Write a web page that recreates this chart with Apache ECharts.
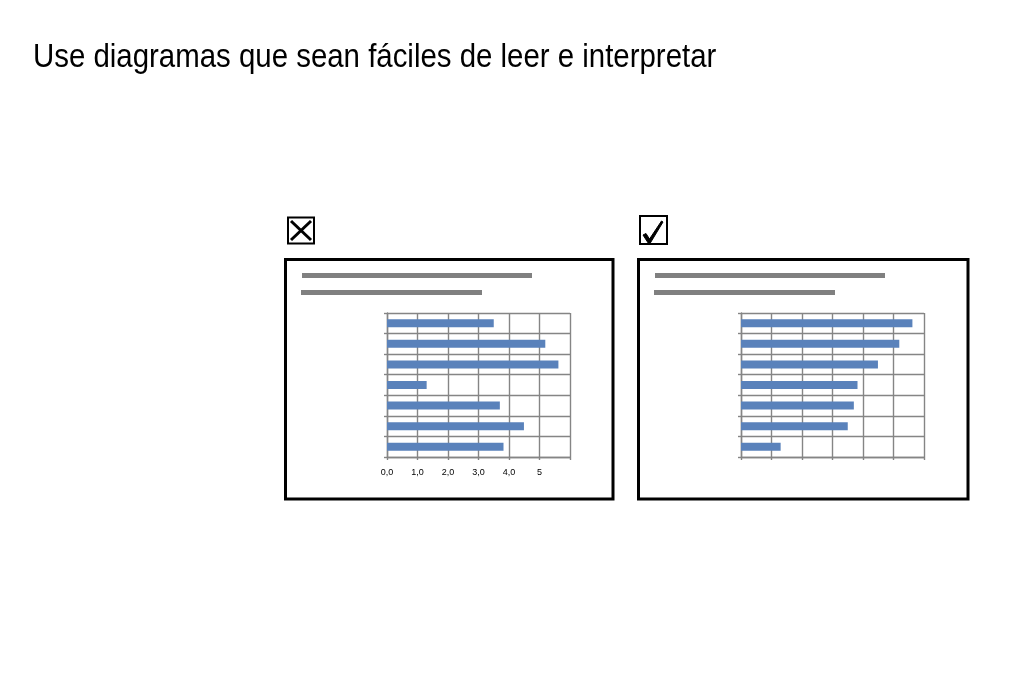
<!DOCTYPE html>
<html>
<head>
<meta charset="utf-8">
<script src="https://cdn.jsdelivr.net/npm/echarts@6/dist/echarts.min.js"></script>
<style>
html,body{margin:0;padding:0;background:#fff;}
#main{width:1024px;height:683px;}
</style>
</head>
<body>
<div id="main"></div>
<script>
// ---- data ----
var titleText = 'Use diagramas que sean fáciles de leer e interpretar';
var categories = ['1', '2', '3', '4', '5', '6', '7'];
var badValues = [3.50, 5.19, 5.62, 1.30, 3.70, 4.49, 3.82];
var goodValues = [5.62, 5.19, 4.49, 3.82, 3.70, 3.50, 1.30];
var xTickLabels = ['0,0', '1,0', '2,0', '3,0', '4,0', '5', ''];

var chart = echarts.init(document.getElementById('main'), null, {renderer: 'canvas'});

var gridColor = '#858585';
var barColor = '#5a82bb';

function xAxisFor(idx, showLabels) {
  return {
    type: 'value', gridIndex: idx, min: 0, max: 6, interval: 1,
    axisLine: {show: true, lineStyle: {color: gridColor, width: 1.4}},
    axisTick: {show: true, length: 3, lineStyle: {color: gridColor, width: 1.4}},
    splitLine: {show: true, lineStyle: {color: gridColor, width: 1.4}},
    axisLabel: {
      show: showLabels, margin: 11, color: '#000',
      fontFamily: 'Liberation Sans', fontSize: 9,
      formatter: function (v) { return xTickLabels[Math.round(v)] || ''; }
    }
  };
}
function yAxisFor(idx) {
  return {
    type: 'category', gridIndex: idx, data: categories, inverse: true,
    axisLine: {show: true, lineStyle: {color: gridColor, width: 1.4}},
    axisTick: {show: true, length: 3, lineStyle: {color: gridColor, width: 1.4}},
    splitLine: {show: true, lineStyle: {color: gridColor, width: 1.4}},
    axisLabel: {show: false}
  };
}

var option = {
  animation: false,
  backgroundColor: '#fff',
  grid: [
    {left: 387, top: 313, width: 183, height: 144},
    {left: 741, top: 313, width: 183, height: 144}
  ],
  xAxis: [xAxisFor(0, true), xAxisFor(1, false)],
  yAxis: [yAxisFor(0), yAxisFor(1)],
  series: [
    {type: 'bar', xAxisIndex: 0, yAxisIndex: 0, data: badValues, barWidth: 8,
     itemStyle: {color: barColor}},
    {type: 'bar', xAxisIndex: 1, yAxisIndex: 1, data: goodValues, barWidth: 8,
     itemStyle: {color: barColor}}
  ],
  graphic: [
    {type: 'text', x: 33, y: 58, scaleX: 0.865,
     style: {text: titleText, font: '34px "Liberation Sans"', fill: '#000', textVerticalAlign: 'middle'}},
    // frames
    {type: 'rect', shape: {x: 285.5, y: 259.5, width: 327.5, height: 239.5},
     style: {fill: null, stroke: '#000', lineWidth: 3}},
    {type: 'rect', shape: {x: 638.5, y: 259.5, width: 329.5, height: 239.5},
     style: {fill: null, stroke: '#000', lineWidth: 3}},
    // placeholder title bars
    {type: 'rect', shape: {x: 302, y: 273, width: 230, height: 5}, style: {fill: '#808080'}},
    {type: 'rect', shape: {x: 301, y: 290, width: 181, height: 5}, style: {fill: '#808080'}},
    {type: 'rect', shape: {x: 655, y: 273, width: 230, height: 5}, style: {fill: '#808080'}},
    {type: 'rect', shape: {x: 654, y: 290, width: 181, height: 5}, style: {fill: '#808080'}},
    // cross box icon
    {type: 'rect', shape: {x: 288, y: 217.5, width: 26, height: 26},
     style: {fill: null, stroke: '#000', lineWidth: 2}},
    {type: 'line', shape: {x1: 291, y1: 221, x2: 311, y2: 240}, style: {stroke: '#000', lineWidth: 3}},
    {type: 'line', shape: {x1: 311, y1: 221, x2: 291, y2: 240}, style: {stroke: '#000', lineWidth: 3}},
    // check box icon
    {type: 'rect', shape: {x: 640, y: 216, width: 27, height: 28},
     style: {fill: null, stroke: '#000', lineWidth: 2}},
    {type: 'polygon', shape: {points: [[643, 235], [646, 233.5], [649.5, 239], [661.5, 221], [663, 222], [650, 243.5], [648.5, 243.5]]},
     style: {fill: '#000', stroke: '#000', lineWidth: 1}}
  ]
};
chart.setOption(option);
</script>
</body>
</html>
